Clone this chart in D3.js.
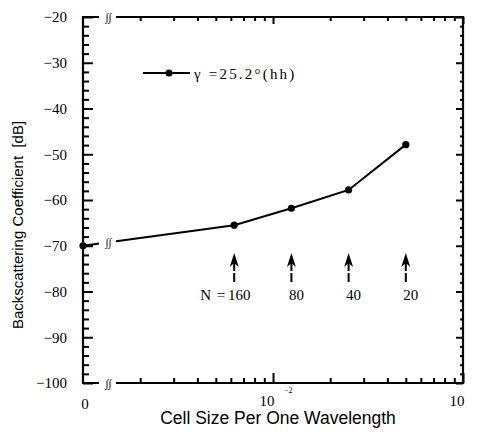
<!DOCTYPE html>
<html><head><meta charset="utf-8">
<script src="https://cdn.jsdelivr.net/npm/d3@7"></script>
<style>body{margin:0;background:#fff}</style></head>
<body><svg id="c" width="482" height="441"></svg>
<script>
// ---- data ----
const cellSize = [0, 1/160, 1/80, 1/40, 1/20];
const sigma = [-70, -65.5, -61.8, -57.8, -47.9];
const cellsN = ["160", "80", "40", "20"];
const yMajorTicks = [-100, -90, -80, -70, -60, -50, -40, -30, -20];
const xMajorTicks = [0.01, 0.1];
const xMajorLabels = ["10", "10"];
const xMajorExp = ["\u22122", ""];
const legendLabel = "\u03b3 =25.2\u00b0(hh)";

const svg = d3.select("#c");
const L = 83, R = 463, T = 17, B = 383;
const xLog = d3.scaleLog().domain([1e-3, 1e-1]).range([L, R]);
const xPos = v => v === 0 ? L : xLog(v);
const y = d3.scaleLinear().domain([-100, -20]).range([B, T]);

const yMinor = d3.range(-100, -19, 2).filter(v => v % 10 !== 0);
const xMinor = [];
[1e-3, 1e-2].forEach(d => { for (let k = 2; k <= 9; k++) xMinor.push(d * k); });

const serif = "'Liberation Serif', 'Times New Roman', serif";
const sans = "'Liberation Sans', Arial, sans-serif";

function styleAxis(g) { g.select(".domain").remove(); g.selectAll("line").attr("stroke", "#000").attr("stroke-width", 2); }

// left axis
svg.append("g").attr("transform", `translate(${L},0)`)
  .call(d3.axisLeft(y).tickValues(yMajorTicks).tickSize(-10).tickPadding(16))
  .attr("font-family", serif).attr("font-size", 15)
  .call(styleAxis)
  .call(g => g.selectAll("text").attr("font-family", serif).attr("font-size", 15).attr("fill", "#000"));
svg.append("g").attr("transform", `translate(${L},0)`)
  .call(d3.axisLeft(y).tickValues(yMinor).tickSize(-6).tickFormat(""))
  .call(styleAxis);
// right axis
svg.append("g").attr("transform", `translate(${R},0)`)
  .call(d3.axisRight(y).tickValues(yMajorTicks).tickSize(-7).tickFormat(""))
  .call(styleAxis);
svg.append("g").attr("transform", `translate(${R},0)`)
  .call(d3.axisRight(y).tickValues(yMinor).tickSize(-3).tickFormat(""))
  .call(styleAxis);
// bottom axis
svg.append("g").attr("transform", `translate(0,${B})`)
  .call(d3.axisBottom(xLog).tickValues(xMajorTicks).tickSize(-10).tickFormat(""))
  .call(styleAxis);
svg.append("g").attr("transform", `translate(0,${B})`)
  .call(d3.axisBottom(xLog).tickValues(xMinor).tickSize(-5).tickFormat(""))
  .call(styleAxis);
// top axis
svg.append("g").attr("transform", `translate(0,${T})`)
  .call(d3.axisTop(xLog).tickValues(xMajorTicks).tickSize(-7).tickFormat(""))
  .call(styleAxis);
svg.append("g").attr("transform", `translate(0,${T})`)
  .call(d3.axisTop(xLog).tickValues(xMinor).tickSize(-4).tickFormat(""))
  .call(styleAxis);

// frame
const frame = svg.append("g").attr("stroke", "#000").attr("stroke-width", 2.2).attr("fill", "none");
frame.append("line").attr("x1", L).attr("x2", L).attr("y1", T - 1).attr("y2", B + 1);
frame.append("line").attr("x1", R).attr("x2", R).attr("y1", T - 1).attr("y2", B + 1);
frame.append("line").attr("x1", L).attr("x2", R + 1).attr("y1", T).attr("y2", T);
frame.append("line").attr("x1", L).attr("x2", R + 1).attr("y1", B).attr("y2", B);

// data line
const line = d3.line().x((d, i) => xPos(cellSize[i])).y(d => y(d));
svg.append("path").datum(sigma).attr("d", line)
  .attr("fill", "none").attr("stroke", "#000").attr("stroke-width", 2);
svg.selectAll("circle.pt").data(sigma).join("circle").attr("class", "pt")
  .attr("cx", (d, i) => xPos(cellSize[i])).attr("cy", d => y(d)).attr("r", 3.6).attr("fill", "#000");

// breaks
const gapL = 99, gapR = 116;
const lineAt = x => {
  const x0 = xPos(cellSize[0]), x1 = xPos(cellSize[1]);
  const t = (x - x0) / (x1 - x0);
  return y(sigma[0]) + t * (y(sigma[1]) - y(sigma[0]));
};
[[T, T], [B, B], [lineAt(gapL), lineAt(gapR)]].forEach(([ya, yb]) => {
  svg.append("rect").attr("x", gapL).attr("y", Math.min(ya, yb) - 4).attr("width", gapR - gapL)
    .attr("height", Math.abs(yb - ya) + 8).attr("fill", "#fff");
  svg.append("text").attr("x", (gapL + gapR) / 2 + 1).attr("y", (ya + yb) / 2 + 4)
    .attr("text-anchor", "middle").attr("font-family", serif).attr("font-style", "italic")
    .attr("font-size", 11).text("\u222b\u222b");
});

// x labels
svg.append("text").attr("x", xPos(0) + 2).attr("y", 409).attr("text-anchor", "middle")
  .attr("font-family", serif).attr("font-size", 15).text("0");
xMajorTicks.forEach((v, i) => {
  svg.append("text").attr("x", xLog(v) - 6).attr("y", 406).attr("text-anchor", "middle")
    .attr("font-family", serif).attr("font-size", 15).text(xMajorLabels[i]);
  if (xMajorExp[i]) svg.append("text").attr("x", xLog(v) + 11).attr("y", 393)
    .attr("font-family", serif).attr("font-size", 8).text(xMajorExp[i]);
});

// titles
svg.append("text").attr("x", (L + R) / 2 + 5).attr("y", 424).attr("text-anchor", "middle")
  .attr("font-family", sans).attr("font-size", 17.5).text("Cell Size Per One Wavelength");
svg.append("text").attr("transform", `translate(23,${(T + B) / 2 + 25}) rotate(-90)`).attr("text-anchor", "middle")
  .attr("font-family", sans).attr("font-size", 15).text("Backscattering Coefficient\u00a0 [dB]");

// legend
const lg = svg.append("g");
lg.append("line").attr("x1", 143).attr("x2", 190).attr("y1", 73).attr("y2", 73).attr("stroke", "#000").attr("stroke-width", 2);
lg.append("circle").attr("cx", 169).attr("cy", 73).attr("r", 3.6).attr("fill", "#000");
lg.append("text").attr("x", 194).attr("y", 79).attr("font-family", serif).attr("font-size", 15)
  .attr("letter-spacing", 2.2).text(legendLabel);

// arrows with N labels
const arrows = svg.append("g");
cellsN.forEach((n, i) => {
  const x = xPos(cellSize[i + 1]);
  arrows.append("path").attr("d", `M${x},253 L${x - 4.5},267 L${x},263 L${x + 4.5},267 Z`).attr("fill", "#000");
  arrows.append("line").attr("x1", x).attr("x2", x).attr("y1", 263).attr("y2", 282)
    .attr("stroke", "#000").attr("stroke-width", 2).attr("stroke-dasharray", "8,2,10");
  arrows.append("text").attr("x", x + 5).attr("y", 300).attr("text-anchor", "middle")
    .attr("font-family", serif).attr("font-size", 15).text(n);
  if (i === 0) arrows.append("text").attr("x", x - 9).attr("y", 300).attr("text-anchor", "end")
    .attr("font-family", serif).attr("font-size", 15).attr("word-spacing", 2).text("N =");
});
</script></body></html>
